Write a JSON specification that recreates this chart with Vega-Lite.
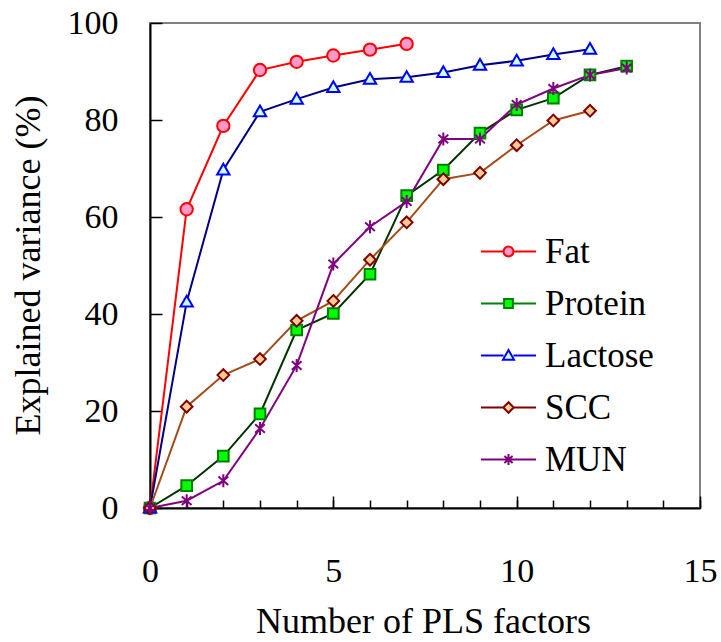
{
  "$schema": "https://vega.github.io/schema/vega-lite/v6.json",
  "autosize": {"type": "none"},
  "width": 550,
  "height": 485,
  "padding": {"left": 150, "top": 23, "right": 21, "bottom": 134},
  "background": "white",
  "config": {
    "view": {"stroke": "#808080", "strokeWidth": 2},
    "font": "Liberation Serif",
    "axis": {"labelFont": "Liberation Serif", "titleFont": "Liberation Serif", "labelColor": "black", "titleColor": "black", "titleFontWeight": "normal", "domainColor": "black", "tickColor": "black", "grid": false, "zindex": 1},
    "legend": {"labelFont": "Liberation Serif"}
  },
  "data": {
    "values": [
      {"series": "Fat", "x": 0, "y": 0},
      {"series": "Fat", "x": 1, "y": 61.6},
      {"series": "Fat", "x": 2, "y": 78.8},
      {"series": "Fat", "x": 3, "y": 90.3},
      {"series": "Fat", "x": 4, "y": 92.0},
      {"series": "Fat", "x": 5, "y": 93.3},
      {"series": "Fat", "x": 6, "y": 94.5},
      {"series": "Fat", "x": 7, "y": 95.7},
      {"series": "Protein", "x": 0, "y": 0},
      {"series": "Protein", "x": 1, "y": 4.6},
      {"series": "Protein", "x": 2, "y": 10.7},
      {"series": "Protein", "x": 3, "y": 19.4},
      {"series": "Protein", "x": 4, "y": 36.7},
      {"series": "Protein", "x": 5, "y": 40.1},
      {"series": "Protein", "x": 6, "y": 48.2},
      {"series": "Protein", "x": 7, "y": 64.4},
      {"series": "Protein", "x": 8, "y": 69.7},
      {"series": "Protein", "x": 9, "y": 77.3},
      {"series": "Protein", "x": 10, "y": 82.1},
      {"series": "Protein", "x": 11, "y": 84.5},
      {"series": "Protein", "x": 12, "y": 89.3},
      {"series": "Protein", "x": 13, "y": 91.1},
      {"series": "Lactose", "x": 0, "y": 0},
      {"series": "Lactose", "x": 1, "y": 42.5},
      {"series": "Lactose", "x": 2, "y": 69.7},
      {"series": "Lactose", "x": 3, "y": 81.7},
      {"series": "Lactose", "x": 4, "y": 84.3},
      {"series": "Lactose", "x": 5, "y": 86.7},
      {"series": "Lactose", "x": 6, "y": 88.4},
      {"series": "Lactose", "x": 7, "y": 88.8},
      {"series": "Lactose", "x": 8, "y": 89.8},
      {"series": "Lactose", "x": 9, "y": 91.3},
      {"series": "Lactose", "x": 10, "y": 92.2},
      {"series": "Lactose", "x": 11, "y": 93.5},
      {"series": "Lactose", "x": 12, "y": 94.6},
      {"series": "SCC", "x": 0, "y": 0},
      {"series": "SCC", "x": 1, "y": 20.9},
      {"series": "SCC", "x": 2, "y": 27.4},
      {"series": "SCC", "x": 3, "y": 30.7},
      {"series": "SCC", "x": 4, "y": 38.6},
      {"series": "SCC", "x": 5, "y": 42.7},
      {"series": "SCC", "x": 6, "y": 51.2},
      {"series": "SCC", "x": 7, "y": 58.9},
      {"series": "SCC", "x": 8, "y": 67.8},
      {"series": "SCC", "x": 9, "y": 69.1},
      {"series": "SCC", "x": 10, "y": 74.8},
      {"series": "SCC", "x": 11, "y": 79.9},
      {"series": "SCC", "x": 12, "y": 81.9},
      {"series": "MUN", "x": 0, "y": 0},
      {"series": "MUN", "x": 1, "y": 1.5},
      {"series": "MUN", "x": 2, "y": 5.6},
      {"series": "MUN", "x": 3, "y": 16.4},
      {"series": "MUN", "x": 4, "y": 29.4},
      {"series": "MUN", "x": 5, "y": 50.3},
      {"series": "MUN", "x": 6, "y": 58.0},
      {"series": "MUN", "x": 7, "y": 63.2},
      {"series": "MUN", "x": 8, "y": 76.1},
      {"series": "MUN", "x": 9, "y": 76.1},
      {"series": "MUN", "x": 10, "y": 83.2},
      {"series": "MUN", "x": 11, "y": 86.5},
      {"series": "MUN", "x": 12, "y": 89.3},
      {"series": "MUN", "x": 13, "y": 90.7}
    ]
  },
  "resolve": {"axis": {"x": "independent"}},
  "layer": [
    {
      "mark": {"type": "line", "strokeWidth": 2},
      "encoding": {
        "x": {"field": "x", "type": "quantitative", "scale": {"domain": [0, 15], "nice": false, "zero": false},
          "axis": {"orient": "bottom", "values": [0, 5, 10, 15], "tickSize": -12, "tickWidth": 1.5, "domainWidth": 2, "labelFontSize": 34, "labelPadding": 58, "labelFlush": false, "labelOverlap": false,
            "title": "Number of PLS factors", "titleFontSize": 36, "titleX": 273, "titleY": 124, "titleBaseline": "alphabetic", "titleAlign": "center"}},
        "y": {"field": "y", "type": "quantitative", "scale": {"domain": [0, 100], "nice": false},
          "axis": {"values": [0, 20, 40, 60, 80, 100], "tickSize": -12, "tickWidth": 1.5, "domainWidth": 2, "labelFontSize": 34, "labelPadding": 44, "labelFlush": false, "labelOverlap": false,
            "title": "Explained variance (%)", "titleFontSize": 36, "titleAngle": -90, "titleX": -111, "titleY": 242, "titleBaseline": "alphabetic", "titleAlign": "center"}},
        "color": {"field": "series", "type": "nominal",
          "scale": {"domain": ["MUN", "SCC", "Lactose", "Protein", "Fat"], "range": ["#800080", "#A34D1A", "#000080", "#003300", "#FF0000"]},
          "legend": null},
        "order": {"field": "x", "type": "quantitative"}
      }
    },
    {
      "mark": {"type": "point", "size": 169, "strokeWidth": 2, "opacity": 1, "fillOpacity": 1, "strokeOpacity": 1},
      "encoding": {
        "x": {"field": "x", "type": "quantitative",
          "axis": {"orient": "bottom", "values": [0, 1, 2, 3, 4, 5, 6, 7, 8, 9, 10, 11, 12, 13, 14, 15], "tickSize": -8, "tickWidth": 1.5, "domain": false, "labels": false, "title": null}},
        "y": {"field": "y", "type": "quantitative"},
        "fill": {"field": "series", "type": "nominal",
          "scale": {"domain": ["Fat", "Protein", "Lactose", "SCC", "MUN"], "range": ["#FF99CC", "#00FF00", "#CCFFFF", "#FFCC99", "transparent"]},
          "legend": {
            "title": null, "orient": "none", "legendX": 330, "legendY": 200, "padding": 0, "direction": "vertical",
            "symbolSize": 3025, "symbolStrokeWidth": 2, "symbolOpacity": 1,
            "labelFontSize": 35, "labelColor": "black", "labelOffset": 8, "labelLimit": 300,
            "rowPadding": 5,
            "encode": {"symbols": {"update": {"shape": {"signal": "datum.value === 'Fat' ? 'M-1,0H-0.2M0.2,0H1M0.18,0A0.18,0.18,0,1,1,-0.18,0A0.18,0.18,0,1,1,0.18,0Z' : datum.value === 'Protein' ? 'M-1,0H-0.16M0.16,0H1M-0.16,-0.16H0.16V0.16H-0.16Z' : datum.value === 'Lactose' ? 'M-1,0H-0.18M0.18,0H1M0,-0.2L0.2,0.15H-0.2Z' : datum.value === 'SCC' ? 'M-1,0H-0.19M0.19,0H1M0,-0.19L0.19,0L0,0.19L-0.19,0Z' : 'M-1,0H1M0,-0.2V0.2M-0.15,-0.13L0.15,0.13M-0.15,0.13L0.15,-0.13'"}}}}
          }},
        "stroke": {"field": "series", "type": "nominal",
          "scale": {"domain": ["Fat", "Protein", "Lactose", "SCC", "MUN"], "range": ["#FF0000", "#008000", "#0000FF", "#800000", "#800080"]}},
        "shape": {"field": "series", "type": "nominal", "legend": null,
          "scale": {"domain": ["MUN", "SCC", "Lactose", "Protein", "Fat"], "range": [
            "M0,-1V1M-0.75,-0.65L0.75,0.65M-0.75,0.65L0.75,-0.65",
            "M0,-0.9L0.9,0L0,0.9L-0.9,0Z",
            "M0,-0.95L0.95,0.7H-0.95Z",
            "M-0.82,-0.82H0.82V0.82H-0.82Z",
            "M0.95,0A0.95,0.95,0,1,1,-0.95,0A0.95,0.95,0,1,1,0.95,0Z"]}}
      }
    }
  ]
}
